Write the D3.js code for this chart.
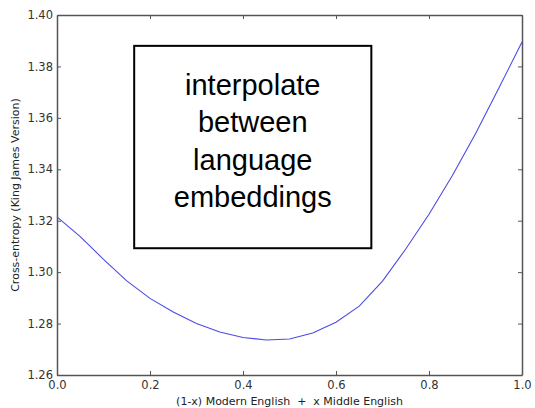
<!DOCTYPE html>
<html>
<head>
<meta charset="utf-8">
<script src="https://cdn.jsdelivr.net/npm/d3@7"></script>
<style>
  body { margin: 0; background: #fff; }
  .axis text { font-family: "DejaVu Sans", sans-serif; font-size: 11.5px; fill: #333; }
  .axis path, .axis line { stroke: #555; }
  .label { font-family: "DejaVu Sans", sans-serif; font-size: 11px; fill: #222; white-space: pre; }
  .note { font-family: "Liberation Sans", Arial, sans-serif; font-size: 29px; fill: #000; }
</style>
</head>
<body>
<div id="chart"></div>
<script>
// cross-entropy vs interpolation weight
var mix = [0, 0.05, 0.1, 0.15, 0.2, 0.25, 0.3, 0.35, 0.4, 0.45, 0.5,
           0.55, 0.6, 0.65, 0.7, 0.75, 0.8, 0.85, 0.9, 0.95, 1.0];
var entropy = [1.3215, 1.3138, 1.3050, 1.2966, 1.2898, 1.2845, 1.2800, 1.2767, 1.2746, 1.2736, 1.2740,
               1.2763, 1.2805, 1.2868, 1.2965, 1.3090, 1.3225, 1.3375, 1.3538, 1.3715, 1.3895];
var xTicks = [0, 0.2, 0.4, 0.6, 0.8, 1.0];
var yTicks = [1.26, 1.28, 1.30, 1.32, 1.34, 1.36, 1.38, 1.40];
var noteLines = ["interpolate", "between", "language", "embeddings"];

var width = 535,
	height = 408,
	margin = {top: 15, right: 13, bottom: 33, left: 57},
	w = width - margin.left - margin.right,
	h = height - margin.top - margin.bottom;

var svg = d3.select("#chart").append("svg")
	.attr("width", width)
	.attr("height", height);

var g = svg.append("g")
	.attr("transform", "translate(" + margin.left + "," + margin.top + ")");

var x = d3.scaleLinear().domain([0, 1]).range([0, w]),
	y = d3.scaleLinear().domain([1.26, 1.40]).range([h, 0]);

var data = mix.map(function(d, i) { return {mix: d, ce: entropy[i]}; });

var line = d3.line()
	.x(function(d) { return x(d.mix); })
	.y(function(d) { return y(d.ce); });

// inward ticks on all four sides, like matplotlib classic
g.append("g")
	.attr("class", "axis")
	.attr("transform", "translate(0," + h + ")")
	.call(d3.axisBottom(x).tickValues(xTicks).tickFormat(d3.format(".1f")).tickSizeInner(-4).tickSizeOuter(0).tickPadding(6));

g.append("g")
	.attr("class", "axis")
	.call(d3.axisLeft(y).tickValues(yTicks).tickFormat(d3.format(".2f")).tickSizeInner(-4).tickSizeOuter(0).tickPadding(4));

g.append("g")
	.attr("class", "axis")
	.call(d3.axisTop(x).tickValues(xTicks).tickFormat("").tickSizeInner(-4).tickSizeOuter(0));

g.append("g")
	.attr("class", "axis")
	.attr("transform", "translate(" + w + ",0)")
	.call(d3.axisRight(y).tickValues(yTicks).tickFormat("").tickSizeInner(-4).tickSizeOuter(0));

g.selectAll(".axis path").style("stroke-width", 1.5);

g.append("path")
	.datum(data)
	.attr("fill", "none")
	.attr("stroke", "#4b4be6")
	.attr("stroke-width", 1.1)
	.attr("d", line);

// annotation box
var bx0 = x(0.166), bx1 = x(0.676),
	by0 = y(1.388), by1 = y(1.3093);

var box = g.append("g")
	.attr("transform", "translate(" + bx0 + "," + by0 + ")");

box.append("rect")
	.attr("width", bx1 - bx0)
	.attr("height", by1 - by0)
	.attr("fill", "#fff")
	.attr("stroke", "#000")
	.attr("stroke-width", 2);

box.selectAll("text")
	.data(noteLines)
	.enter().append("text")
		.attr("class", "note")
		.attr("text-anchor", "middle")
		.attr("x", (bx1 - bx0) / 2)
		.attr("y", function(d, i) { return 49 + i * 37.5; })
		.text(function(d) { return d; });

svg.append("text")
	.attr("class", "label")
	.attr("text-anchor", "middle")
	.attr("x", margin.left + w / 2)
	.attr("y", height - 3)
	.text("(1-x) Modern English  +  x Middle English");

svg.append("text")
	.attr("class", "label")
	.attr("text-anchor", "middle")
	.attr("transform", "translate(19," + (margin.top + h / 2) + ") rotate(-90)")
	.text("Cross-entropy (King James Version)");
</script>
</body>
</html>
